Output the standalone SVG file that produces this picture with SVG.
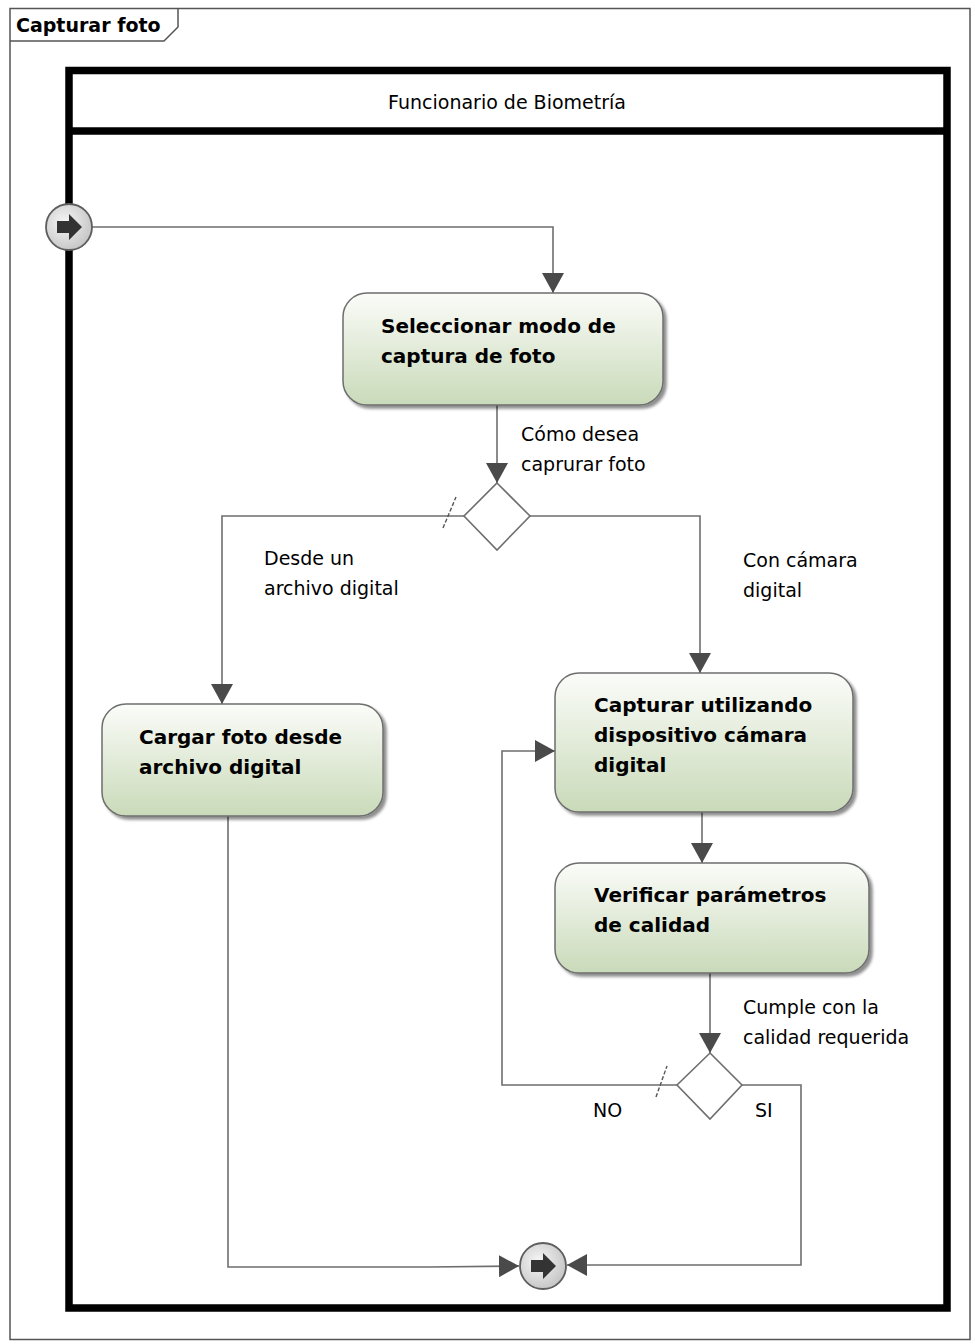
<svg xmlns="http://www.w3.org/2000/svg" width="975" height="1344" viewBox="0 0 975 1344">
  <defs>
    <linearGradient id="actFill" x1="0" y1="0" x2="0" y2="1">
      <stop offset="0" stop-color="#fbfcf9"/>
      <stop offset="1" stop-color="#c9dab9"/>
    </linearGradient>
    <radialGradient id="nodeFill" cx="0.4" cy="0.4" r="0.65">
      <stop offset="0" stop-color="#f6f6f6"/>
      <stop offset="1" stop-color="#c4c4c4"/>
    </radialGradient>
    <filter id="shadow" x="-10%" y="-10%" width="125%" height="130%">
      <feGaussianBlur in="SourceAlpha" stdDeviation="1.5"/>
      <feOffset dx="3" dy="3" result="b"/>
      <feComponentTransfer><feFuncA type="linear" slope="0.45"/></feComponentTransfer>
      <feMerge><feMergeNode/><feMergeNode in="SourceGraphic"/></feMerge>
    </filter>
    <marker id="arrow" markerUnits="userSpaceOnUse" markerWidth="20" markerHeight="22" refX="20" refY="11" orient="auto">
      <path d="M0,0 L20,11 L0,22 Z" fill="#4a4a4a"/>
    </marker>
  </defs>
  <style>
    text { font-family: "DejaVu Sans", "Liberation Sans", sans-serif; fill: #000; }
    .lbl { font-size: 19px; }
    .act { font-size: 20px; font-weight: bold; }
    .title { font-size: 19px; font-weight: bold; }
    .box { fill: url(#actFill); stroke: #6e6e6e; stroke-width: 1.5; filter: url(#shadow); }
    .flow { fill: none; stroke: #6e6e6e; stroke-width: 1.6; }
    .arr { marker-end: url(#arrow); }
    .dec { fill: #fff; stroke: #6e6e6e; stroke-width: 1.6; }
    .tick { stroke: #555; stroke-width: 1.4; stroke-dasharray: 4 2; }
    .node { fill: url(#nodeFill); stroke: #5e5e5e; stroke-width: 1.8; }
    .glyph { fill: #333; }
  </style>

  <rect width="975" height="1344" fill="#fff"/>

  <!-- activity frame -->
  <g id="frame">
    <rect x="10" y="8.5" width="960" height="1331" fill="none" stroke="#555" stroke-width="1.5"/>
    <path d="M10,41 L164,41 L178,27 L178,8.5" fill="none" stroke="#555" stroke-width="1.5"/>
    <text class="title" x="16" y="32">Capturar foto</text>
  </g>

  <!-- swimlane -->
  <g id="lane">
    <rect x="69" y="70.5" width="878" height="1237.5" fill="none" stroke="#000" stroke-width="7.5"/>
    <line x1="69" y1="131" x2="947" y2="131" stroke="#000" stroke-width="7.5"/>
    <text class="lbl" x="507" y="109" text-anchor="middle">Funcionario de Biometría</text>
  </g>

  <!-- connectors -->
  <g id="connectors">
    <path class="flow arr" d="M92,227 L553,227 L553,293"/>
    <path class="flow arr" d="M497,405 L497,483"/>
    <path class="flow arr" d="M464,516 L222,516 L222,704"/>
    <line class="tick" x1="443" y1="528" x2="456" y2="497"/>
    <path class="flow arr" d="M530,516 L700,516 L700,673"/>
    <path class="flow arr" d="M702,812 L702,863"/>
    <path class="flow arr" d="M710,973 L710,1053"/>
    <path class="flow arr" d="M677,1085 L502,1085 L502,751 L555,751"/>
    <line class="tick" x1="656" y1="1097" x2="667" y2="1066"/>
    <path class="flow arr" d="M742,1085 L801,1085 L801,1265 L567,1265"/>
    <path class="flow arr" d="M228,816 L228,1267 L430,1267 L519,1266"/>
    <text class="lbl" x="521" y="441">Cómo desea</text>
    <text class="lbl" x="521" y="471">caprurar foto</text>
    <text class="lbl" x="264" y="565">Desde un</text>
    <text class="lbl" x="264" y="595">archivo digital</text>
    <text class="lbl" x="743" y="567">Con cámara</text>
    <text class="lbl" x="743" y="597">digital</text>
    <text class="lbl" x="743" y="1014">Cumple con la</text>
    <text class="lbl" x="743" y="1044">calidad requerida</text>
    <text class="lbl" x="593" y="1117">NO</text>
    <text class="lbl" x="755" y="1117">SI</text>
  </g>

  <!-- start -->
  <g id="start">
    <circle class="node" cx="69" cy="227" r="23"/>
    <path class="glyph" d="M57,221 L69,221 L69,214 L82,227 L69,240 L69,233 L57,233 Z"/>
  </g>

  <g id="seleccionar">
    <rect class="box" x="343" y="293" width="320" height="112" rx="24"/>
    <text class="act" x="381" y="333">Seleccionar modo de</text>
    <text class="act" x="381" y="363">captura de foto</text>
  </g>

  <g id="decision1">
    <polygon class="dec" points="497,483 530,516 497,550 464,516"/>
  </g>

  <g id="cargar">
    <rect class="box" x="102" y="704" width="281" height="112" rx="24"/>
    <text class="act" x="139" y="744">Cargar foto desde</text>
    <text class="act" x="139" y="774">archivo digital</text>
  </g>

  <g id="capturar">
    <rect class="box" x="555" y="673" width="298" height="139" rx="24"/>
    <text class="act" x="594" y="712">Capturar utilizando</text>
    <text class="act" x="594" y="742">dispositivo cámara</text>
    <text class="act" x="594" y="772">digital</text>
  </g>

  <g id="verificar">
    <rect class="box" x="555" y="863" width="314" height="110" rx="24"/>
    <text class="act" x="594" y="902">Verificar parámetros</text>
    <text class="act" x="594" y="932">de calidad</text>
  </g>

  <g id="decision2">
    <polygon class="dec" points="710,1053 742,1085 710,1119 677,1085"/>
  </g>

  <!-- exit -->
  <g id="end">
    <circle class="node" cx="543" cy="1266" r="23"/>
    <path class="glyph" d="M531,1260 L543,1260 L543,1253 L556,1266 L543,1279 L543,1272 L531,1272 Z"/>
  </g>
</svg>
